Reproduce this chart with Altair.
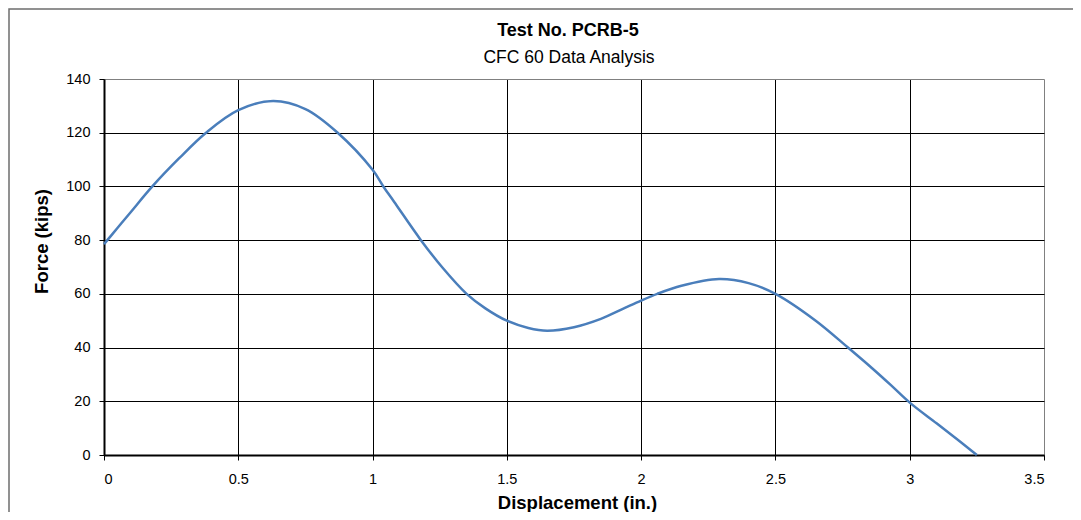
import altair as alt
import pandas as pd

# Displacement (in.) and Force (kips)
displacement = [0.00, 0.05, 0.10, 0.18, 0.28, 0.38, 0.50, 0.63, 0.75, 0.87, 1.00, 1.04,
                1.08, 1.18, 1.26, 1.35, 1.42, 1.50, 1.58, 1.65, 1.75, 1.85, 1.93, 2.00,
                2.06, 2.15, 2.29, 2.40, 2.50, 2.65, 2.77, 2.86, 2.93, 3.00, 3.10, 3.18, 3.25]
force = [78.5, 84.5, 90.5, 100.0, 110.5, 120.0, 128.4, 131.8, 128.8, 120.0, 106.2, 100.0,
         94.3, 80.0, 69.8, 60.0, 54.6, 50.0, 47.3, 46.3, 47.6, 50.7, 54.3, 57.5,
         60.0, 63.0, 65.5, 64.0, 60.0, 50.0, 40.0, 32.3, 26.0, 19.5, 11.8, 5.6, 0.0]

x_ticks = [0, 0.5, 1, 1.5, 2, 2.5, 3, 3.5]
y_ticks = [0, 20, 40, 60, 80, 100, 120, 140]

title_text = "Test No. PCRB-5"
subtitle_text = "CFC 60 Data Analysis"

df = pd.DataFrame({"Displacement": displacement, "Force": force})
FONT = "Liberation Sans"

line = alt.Chart(df).mark_line(
    color="#4a7ebb", strokeWidth=2.5, interpolate="catmull-rom"
).encode(
    x=alt.X(
        "Displacement:Q",
        scale=alt.Scale(domain=[0, 3.5], nice=False, zero=False),
        axis=alt.Axis(
            values=x_ticks, format="~g", title="Displacement (in.)",
            labelFont=FONT, labelFontSize=14.5, labelColor="black", labelPadding=12,
            tickSize=5, tickColor="black", tickWidth=1,
            domainColor="black", domainWidth=2,
            grid=True, gridWidth=1,
            gridColor=alt.condition(alt.datum.value == 3.5, alt.value("#808080"), alt.value("black")),
            titleFont=FONT, titleFontSize=18.5, titleFontWeight="bold", titleColor="black",
            titleBaseline="alphabetic", titleY=53.5, titleX=473,
        ),
    ),
    y=alt.Y(
        "Force:Q",
        scale=alt.Scale(domain=[0, 140], nice=False),
        axis=alt.Axis(
            values=y_ticks, title="Force (kips)",
            labelFont=FONT, labelFontSize=14.5, labelColor="black", labelPadding=9,
            tickSize=5, tickColor="black", tickWidth=1,
            domainColor="black", domainWidth=2,
            grid=True, gridWidth=1,
            gridColor=alt.condition(alt.datum.value == 140, alt.value("#808080"), alt.value("black")),
            titleFont=FONT, titleFontSize=18.5, titleFontWeight="bold", titleColor="black",
            titleBaseline="alphabetic", titleX=-57, titleY=162, titleAngle=-90,
        ),
    ),
)

one = pd.DataFrame({"k": [0]})

border = alt.Chart(one).mark_rect(
    filled=False, stroke="#6e6e6e", strokeWidth=1.5
).encode(
    x=alt.value(-95), x2=alt.value(1100), y=alt.value(-70), y2=alt.value(700)
)

title = alt.Chart(one).mark_text(
    text=title_text, font=FONT, fontSize=18, fontWeight="bold", color="black",
    align="center", baseline="alphabetic"
).encode(x=alt.value(464), y=alt.value(-43.5))

subtitle = alt.Chart(one).mark_text(
    text=subtitle_text, font=FONT, fontSize=17.5, fontWeight="normal", color="black",
    align="center", baseline="alphabetic"
).encode(x=alt.value(465), y=alt.value(-16))

chart = alt.layer(border, line, title, subtitle).properties(
    width=940,
    height=376,
    autosize=alt.AutoSizeParams(type="none"),
    padding={"left": 96, "top": 71, "right": 29, "bottom": 57},
).configure_view(strokeWidth=0)

chart.save("out.html", embed_options={"renderer": "svg", "actions": False})
